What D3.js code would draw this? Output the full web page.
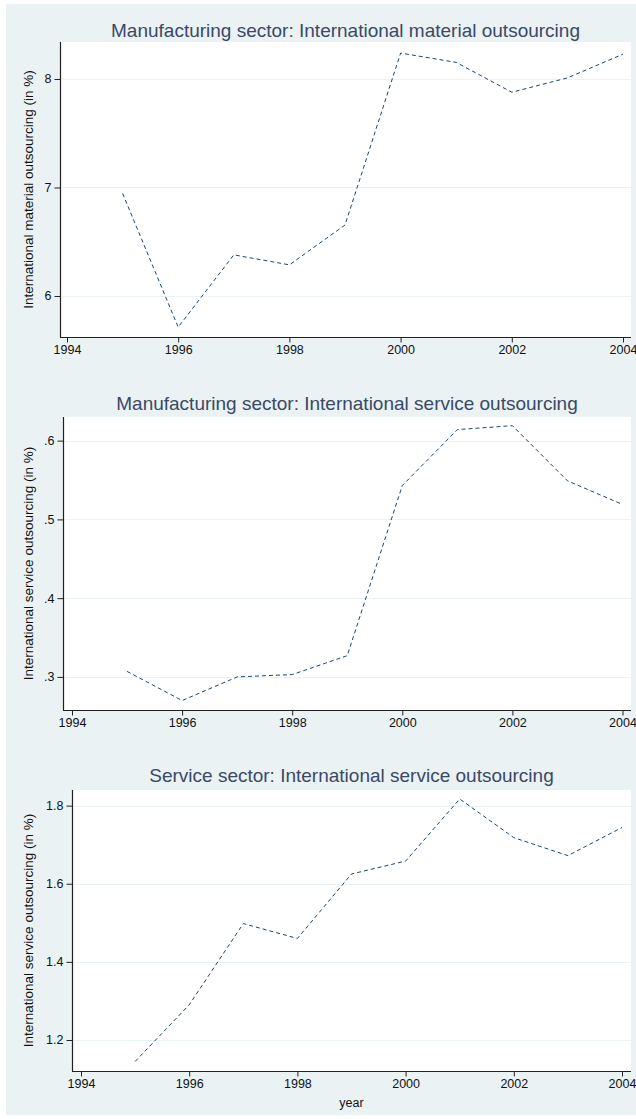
<!DOCTYPE html>
<html>
<head>
<meta charset="utf-8">
<script src="https://cdn.jsdelivr.net/npm/d3@7"></script>
<style>
  html, body { margin: 0; padding: 0; background: #ffffff; }
  svg { display: block; font-family: "Liberation Sans", Arial, sans-serif; }
</style>
</head>
<body>
<svg id="chart" width="636" height="1119"></svg>
<script>
// ---- data ----
const years = [1995, 1996, 1997, 1998, 1999, 2000, 2001, 2002, 2003, 2004];
const xTicks = [1994, 1996, 1998, 2000, 2002, 2004];

const materialMfg = [6.945, 5.713, 6.379, 6.287, 6.654, 8.239, 8.153, 7.878, 8.01, 8.229];
const serviceMfg  = [0.307, 0.270, 0.300, 0.303, 0.327, 0.543, 0.614, 0.619, 0.549, 0.519];
const serviceSvc  = [1.145, 1.29, 1.498, 1.46, 1.625, 1.658, 1.817, 1.718, 1.672, 1.744];

const ticks1 = [6, 7, 8];
const ticks2 = [0.3, 0.4, 0.5, 0.6];
const ticks3 = [1.2, 1.4, 1.6, 1.8];

const titles = [
  "Manufacturing sector: International material outsourcing",
  "Manufacturing sector: International service outsourcing",
  "Service sector: International service outsourcing"
];
const yTitles = [
  "International material outsourcing (in %)",
  "International service outsourcing (in %)",
  "International service outsourcing (in %)"
];
const xTitle = "year";

// ---- layout ----
const panels = [
  { values: materialMfg, ticks: ticks1, fmt: d => d3.format("d")(d),
    left: 60, right: 631, top: 42, bottom: 337, xpad: [7, 8],
    yDom: [5.622, 8.341], titleY: 37 },
  { values: serviceMfg, ticks: ticks2, fmt: d => d3.format(".1f")(d).replace(/^0/, ""),
    left: 63, right: 631, top: 417, bottom: 710, xpad: [9, 8.5],
    yDom: [0.258, 0.630], titleY: 410 },
  { values: serviceSvc, ticks: ticks3, fmt: d => d3.format(".1f")(d),
    left: 72, right: 631, top: 790, bottom: 1071, xpad: [9, 9],
    yDom: [1.1206, 1.840], titleY: 782 }
];

const svg = d3.select("#chart");
svg.append("rect").attr("x", 6).attr("y", 4).attr("width", 630).attr("height", 1111)
  .attr("fill", "#eaf2f3");

panels.forEach((p, i) => {
  const g = svg.append("g");
  const x = d3.scaleLinear().domain([1994, 2004]).range([p.left + p.xpad[0], p.right - p.xpad[1]]);
  const y = d3.scaleLinear().domain(p.yDom).range([p.bottom, p.top]);

  g.append("rect").attr("x", p.left).attr("y", p.top)
    .attr("width", p.right - p.left).attr("height", p.bottom - p.top).attr("fill", "#ffffff");

  // grid
  g.selectAll(".grid").data(p.ticks).enter().append("line")
    .attr("x1", p.left).attr("x2", p.right)
    .attr("y1", d => Math.round(y(d)) + 0.5).attr("y2", d => Math.round(y(d)) + 0.5)
    .attr("stroke", "#eaf2f3").attr("stroke-width", 1);

  // y axis
  const ya = d3.axisLeft(y).tickValues(p.ticks).tickFormat(p.fmt).tickSize(6).tickPadding(3);
  const yg = g.append("g").attr("transform", `translate(${p.left + 0.5},0)`).call(ya);
  yg.select(".domain").attr("d", `M0,${p.top}V${p.bottom}`);

  // x axis
  const xa = d3.axisBottom(x).tickValues(xTicks).tickFormat(d3.format("d")).tickSize(5).tickPadding(3);
  const xg = g.append("g").attr("transform", `translate(0,${p.bottom + 0.5})`).call(xa);
  xg.select(".domain").attr("d", `M${p.left},0H${p.right}`);

  [yg, xg].forEach(a => {
    a.selectAll(".domain").attr("stroke", "#222").attr("stroke-width", 1.2);
    a.selectAll(".tick line").attr("stroke", "#222");
    a.selectAll(".tick text").attr("fill", "#111").style("font-size", "12.5px")
      .style("font-family", "'Liberation Sans', Arial, sans-serif");
  });

  // line
  const line = d3.line().x((d, j) => x(years[j])).y(d => y(d));
  g.append("path").datum(p.values).attr("d", line)
    .attr("fill", "none").attr("stroke", "#1a476f").attr("stroke-width", 1)
    .attr("stroke-dasharray", "4,3");

  // title
  g.append("text").attr("x", (p.left + p.right) / 2).attr("y", p.titleY)
    .attr("text-anchor", "middle").attr("fill", "#3a4966")
    .style("font-size", "19px").text(titles[i]);

  // y title
  g.append("text")
    .attr("transform", `translate(33,${(p.top + p.bottom) / 2}) rotate(-90)`)
    .attr("text-anchor", "middle").attr("fill", "#111")
    .style("font-size", "13.5px").text(yTitles[i]);

  if (i === 2) {
    g.append("text").attr("x", (p.left + p.right) / 2).attr("y", 1107)
      .attr("text-anchor", "middle").attr("fill", "#111")
      .style("font-size", "12.5px").text(xTitle);
  }
});
</script>
</body>
</html>
